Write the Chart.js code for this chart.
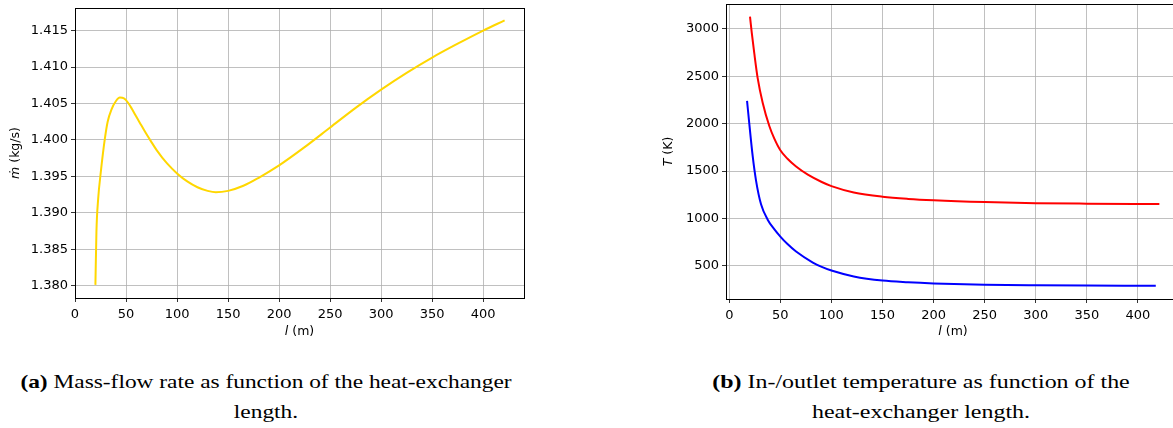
<!DOCTYPE html>
<html>
<head>
  <title>Heat-exchanger length study</title>
  <script src="https://cdn.jsdelivr.net/npm/chart.js"></script>
  <style>
    html, body { margin: 0; padding: 0; background: #fff; overflow: hidden; width: 1173px; height: 428px; }
    .panel { position: absolute; top: 0; }
    .caption {
      position: absolute; font-family: "Liberation Serif", "DejaVu Serif", serif;
      font-size: 19px; color: #000; text-align: center; line-height: 30px;
      transform: scaleX(1.23); transform-origin: center top;
    }
    .caption b { font-weight: bold; }
  </style>
</head>
<body>
  <!-- left panel: mass-flow rate -->
  <div class="panel" style="left:0px; width:540px; height:345px;">
    <canvas id="massChart" width="540" height="345"></canvas>
  </div>
  <!-- right panel: temperatures (runs past the window edge, as in the figure) -->
  <div class="panel" style="left:650px; width:540px; height:345px;">
    <canvas id="tempChart" width="540" height="345"></canvas>
  </div>

  <div class="caption" style="left:0px; width:532px; top:367px;">
    <b>(a)</b> Mass-flow rate as function of the heat-exchanger<br>length.
  </div>
  <div class="caption" style="left:660px; width:522px; top:367px; transform: scaleX(1.26);">
    <b>(b)</b> In-/outlet temperature as function of the<br>heat-exchanger length.
  </div>

  <script>
    // Mass-flow rate vs heat-exchanger length
    const lengthMass = [20, 21, 22.7, 25.3, 29.3, 32, 35.8, 40, 44, 48, 52, 56, 60, 65, 70, 74, 80, 90, 100, 110, 120, 130, 138, 150, 165, 180, 200, 225, 250, 275, 300, 325, 350, 375, 400, 421];
    const massFlow = [1.3801, 1.3874, 1.3919, 1.3956, 1.4002, 1.4025, 1.4042, 1.4053, 1.4058, 1.4057, 1.4051, 1.4042, 1.4032, 1.4020, 1.4008, 1.3999, 1.3986, 1.3968, 1.3954, 1.3943, 1.3935, 1.3930, 1.3928, 1.3930, 1.3937, 1.3948, 1.3965, 1.3990, 1.4017, 1.4044, 1.4069, 1.4092, 1.4113, 1.4132, 1.4150, 1.4164];

    // Inlet temperature (red)
    const lengthIn = [20.3, 22, 24.5, 27.8, 32.7, 39.2, 44, 50, 57, 65.4, 76.9, 90.5, 100, 121.9, 150, 175, 200, 250, 300, 350, 421];
    const tempIn = [3127, 2960, 2740, 2480, 2220, 1975, 1845, 1720, 1630, 1548, 1462, 1385, 1342, 1275, 1230, 1207, 1192, 1173, 1162, 1157, 1153];

    // Outlet temperature (blue)
    const lengthOut = [17.4, 19.6, 22.9, 26.2, 31.1, 37.6, 44, 50, 57, 65.4, 81.8, 90.5, 100, 121.9, 150, 175, 200, 250, 300, 350, 417.5];
    const tempOut = [2240, 2000, 1660, 1400, 1150, 988, 888, 810, 731, 652, 536, 491, 452, 390, 346, 328, 316, 302, 296, 293, 292];

    const xTicks = [0, 50, 100, 150, 200, 250, 300, 350, 400];
    const massTicks = [1.380, 1.385, 1.390, 1.395, 1.400, 1.405, 1.410, 1.415];
    const tempTicks = [500, 1000, 1500, 2000, 2500, 3000];

    const tickFont = { family: 'DejaVu Sans', size: 13 };

    // matplotlib-like box around the plot area
    const framePlugin = {
      id: 'frame',
      afterDraw(chart) {
        const a = chart.chartArea;
        const ctx = chart.ctx;
        ctx.save();
        ctx.strokeStyle = '#000';
        ctx.lineWidth = 1;
        ctx.strokeRect(Math.round(a.left) + 0.5, Math.round(a.top) + 0.5,
          Math.round(a.right - a.left), Math.round(a.bottom - a.top));
        ctx.restore();
      }
    };

    // axis labels with an italic symbol, e.g. "l (m)" with an italic l
    function drawParts(ctx, parts, cx, cy) {
      const fontOf = p => (p.italic ? 'italic ' : '') + '12.5px "DejaVu Sans"';
      let total = 0;
      parts.forEach(p => { ctx.font = fontOf(p); total += ctx.measureText(p.text).width; });
      let x = cx - total / 2;
      ctx.textBaseline = 'middle';
      ctx.textAlign = 'left';
      parts.forEach(p => {
        ctx.font = fontOf(p);
        ctx.fillText(p.text, x, cy);
        x += ctx.measureText(p.text).width;
      });
    }

    const axisTitlePlugin = {
      id: 'axisTitles',
      afterDraw(chart, args, opts) {
        const a = chart.chartArea;
        const ctx = chart.ctx;
        ctx.save();
        ctx.fillStyle = '#000';
        drawParts(ctx, opts.x, (a.left + a.right) / 2, opts.xTitleY);
        ctx.translate(opts.yTitleX, (a.top + a.bottom) / 2);
        ctx.rotate(-Math.PI / 2);
        drawParts(ctx, opts.y, 0, 0);
        ctx.restore();
      }
    };

    function toPoints(xs, ys) {
      return xs.map((x, i) => ({ x: x, y: ys[i] }));
    }

    function axis(min, max, ticks, fmt, fitSize, isY) {
      return {
        type: 'linear',
        min: min,
        max: max,
        afterBuildTicks: (scale) => { scale.ticks = ticks.map(v => ({ value: v })); },
        afterFit: (scale) => {
          // keep the plot box where the layout padding puts it
          scale.paddingTop = 0; scale.paddingBottom = 0;
          scale.paddingLeft = 0; scale.paddingRight = 0;
          if (isY) scale.width = fitSize; else scale.height = fitSize;
        },
        grid: { color: '#b0b0b0', lineWidth: 0.8, tickLength: 4, tickColor: '#000', drawTicks: true },
        border: { display: true, color: '#000', width: 1 },
        ticks: { font: tickFont, color: '#000', padding: isY ? 3 : 5, callback: fmt, autoSkip: false, maxRotation: 0 },
        title: { display: false }
      };
    }

    function lineSet(points, colour) {
      return {
        data: points, borderColor: colour, borderWidth: 2, pointRadius: 0,
        fill: false, cubicInterpolationMode: 'monotone'
      };
    }

    new Chart(document.getElementById('massChart').getContext('2d'), {
      type: 'line',
      data: { datasets: [lineSet(toPoints(lengthMass, massFlow), '#FFD700')] },
      options: {
        responsive: false, animation: false, devicePixelRatio: 1,
        layout: { padding: { top: 8, right: 16, left: 6, bottom: 0 } },
        plugins: {
          legend: { display: false }, tooltip: { enabled: false },
          axisTitles: {
            x: [{ text: 'l', italic: true }, { text: ' (m)' }],
            y: [{ text: 'ṁ', italic: true }, { text: ' (kg/s)' }],
            xTitleY: 332, yTitleX: 16
          }
        },
        scales: {
          x: axis(0, 440, xTicks, v => String(v), 47, false),
          y: axis(1.3783, 1.4181, massTicks, v => v.toFixed(3), 69, true)
        }
      },
      plugins: [framePlugin, axisTitlePlugin]
    });

    new Chart(document.getElementById('tempChart').getContext('2d'), {
      type: 'line',
      data: {
        datasets: [
          lineSet(toPoints(lengthIn, tempIn), '#ff0000'),
          lineSet(toPoints(lengthOut, tempOut), '#0000ff')
        ]
      },
      options: {
        responsive: false, animation: false, devicePixelRatio: 1,
        layout: { padding: { top: 4, right: 10, left: 6, bottom: 0 } },
        plugins: {
          legend: { display: false }, tooltip: { enabled: false },
          axisTitles: {
            x: [{ text: 'l', italic: true }, { text: ' (m)' }],
            y: [{ text: 'T', italic: true }, { text: ' (K)' }],
            xTitleY: 332, yTitleX: 19
          }
        },
        scales: {
          x: axis(-3.2, 441.2, xTicks, v => String(v), 46, false),
          y: axis(152, 3261, tempTicks, v => String(v), 70, true)
        }
      },
      plugins: [framePlugin, axisTitlePlugin]
    });
  </script>
</body>
</html>
